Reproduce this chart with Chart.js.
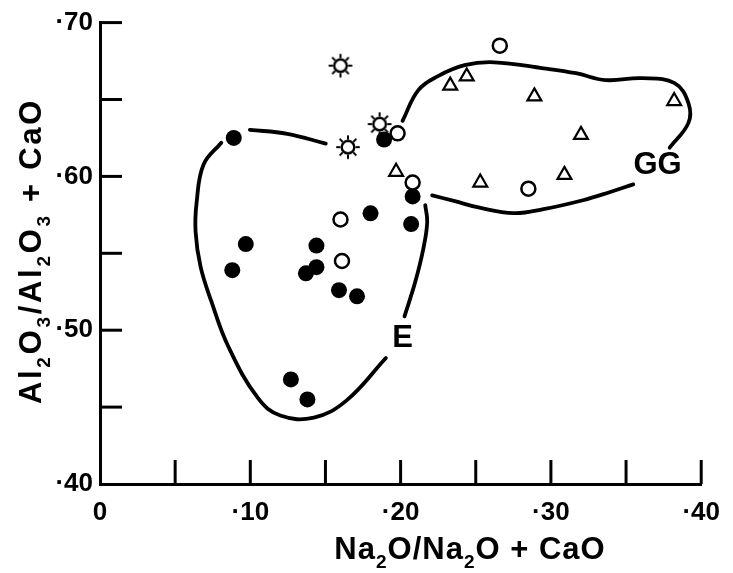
<!DOCTYPE html>
<html>
<head>
<meta charset="utf-8">
<style>
  html, body { margin: 0; padding: 0; background: #fff; }
</style>
</head>
<body>
<canvas id="chart" width="733" height="573"></canvas>
<script src="https://cdn.jsdelivr.net/npm/chart.js@4/dist/chart.umd.min.js"></script>
<script>
// samples
const filledX = [0.089, 0.097, 0.088, 0.144, 0.144, 0.137, 0.159, 0.180, 0.207, 0.208, 0.171, 0.127, 0.138, 0.189];
const filledY = [0.625, 0.556, 0.539, 0.555, 0.541, 0.537, 0.526, 0.576, 0.569, 0.587, 0.522, 0.468, 0.455, 0.624];
const openX = [0.198, 0.208, 0.160, 0.161, 0.266, 0.285];
const openY = [0.628, 0.596, 0.572, 0.545, 0.685, 0.592];
const triX = [0.244, 0.233, 0.289, 0.320, 0.382, 0.309, 0.253, 0.197];
const triY = [0.665, 0.659, 0.652, 0.627, 0.649, 0.601, 0.596, 0.603];
const sunX = [0.160, 0.165, 0.186];
const sunY = [0.672, 0.619, 0.634];

// field boundaries (hand drawn in the original)
const eTopX = [0.0997, 0.1246, 0.1502];
const eTopY = [0.6303, 0.6277, 0.6213];
const eMainX = [0.0807, 0.0689, 0.0643, 0.0636, 0.0669, 0.0741, 0.0852, 0.1049, 0.1200, 0.1423, 0.1639, 0.1902];
const eMainY = [0.6219, 0.6077, 0.5832, 0.5639, 0.5413, 0.5187, 0.4897, 0.4561, 0.4445, 0.4432, 0.4542, 0.4819];
const eRightX = [0.2026, 0.2098, 0.2151, 0.2177, 0.2164];
const eRightY = [0.5090, 0.5316, 0.5529, 0.5703, 0.5813];
const ggLowX = [0.2210, 0.2361, 0.2511, 0.2754, 0.2951, 0.3213, 0.3390, 0.3548];
const ggLowY = [0.5877, 0.5839, 0.5800, 0.5761, 0.5787, 0.5845, 0.5897, 0.5948];
const ggTopX = [0.2013, 0.2118, 0.2249, 0.2426, 0.2623, 0.2951, 0.3167, 0.3364, 0.3607, 0.3823, 0.3915, 0.3915, 0.3790];
const ggTopY = [0.6361, 0.6561, 0.6652, 0.6723, 0.6742, 0.6703, 0.6671, 0.6626, 0.6639, 0.6606, 0.6477, 0.6348, 0.6187];

// field names
const fieldNames = ["E", "GG"];
const fieldX = [0.2013, 0.3710];
const fieldY = [0.4948, 0.6071];

// axes
const xTickMarks = [0.05, 0.10, 0.15, 0.20, 0.25, 0.30, 0.35, 0.40];
const yTickMarks = [0.45, 0.50, 0.55, 0.60, 0.65, 0.70];

const pts = (xs, ys) => xs.map((v, i) => ({ x: v, y: ys[i] }));
const tickFont = { family: '"Liberation Sans Narrow", "Liberation Sans", Arial, sans-serif', size: 26, weight: 'bold' };

// sun marker
const sun = document.createElement('canvas');
sun.width = 28; sun.height = 28;
(function () {
  const c = sun.getContext('2d');
  c.strokeStyle = '#000';
  c.fillStyle = '#fff';
  c.lineWidth = 2.4;
  c.beginPath(); c.arc(14, 14, 6.3, 0, Math.PI * 2); c.fill(); c.stroke();
  c.lineWidth = 2;
  for (let k = 0; k < 8; k++) {
    const a = k * Math.PI / 4;
    c.beginPath();
    c.moveTo(14 + Math.cos(a) * 7.5, 14 + Math.sin(a) * 7.5);
    c.lineTo(14 + Math.cos(a) * 11.8, 14 + Math.sin(a) * 11.8);
    c.stroke();
  }
})();

const curve = (data) => ({
  type: 'line', data, showLine: true, fill: false, tension: 0.4,
  borderColor: '#000', borderWidth: 3.8, pointRadius: 0, borderCapStyle: 'round', clip: false
});

function richText(ctx, parts, size) {
  let w = 0;
  parts.forEach(p => {
    ctx.font = 'bold ' + (p.sub ? Math.round(size * 0.62) : size) + 'px "Liberation Sans", Arial, sans-serif';
    p.w = ctx.measureText(p.t).width;
    w += p.w;
  });
  let x = -w / 2;
  parts.forEach(p => {
    ctx.font = 'bold ' + (p.sub ? Math.round(size * 0.62) : size) + 'px "Liberation Sans", Arial, sans-serif';
    ctx.fillText(p.t, x, p.sub ? size * 0.28 : 0);
    x += p.w;
  });
}

const decor = {
  id: 'decor',
  beforeDatasetsDraw(chart) {
    const { ctx, scales: { x, y } } = chart;
    ctx.save();
    ctx.strokeStyle = '#000';
    ctx.lineWidth = 3;
    xTickMarks.forEach(v => {
      const px = x.getPixelForValue(v);
      ctx.beginPath(); ctx.moveTo(px, y.bottom); ctx.lineTo(px, y.bottom - 24); ctx.stroke();
    });
    yTickMarks.forEach(v => {
      const py = y.getPixelForValue(v);
      ctx.beginPath(); ctx.moveTo(x.left, py); ctx.lineTo(x.left + 22, py); ctx.stroke();
    });
    ctx.restore();
  },
  afterDraw(chart) {
    const { ctx, scales: { x, y } } = chart;
    ctx.save();
    ctx.fillStyle = '#000';
    ctx.textAlign = 'center';
    ctx.textBaseline = 'middle';
    ctx.font = 'bold 31px "Liberation Sans", Arial, sans-serif';
    fieldNames.forEach((t, i) => {
      ctx.fillText(t, x.getPixelForValue(fieldX[i]), y.getPixelForValue(fieldY[i]));
    });
    ctx.textAlign = 'left';
    ctx.textBaseline = 'alphabetic';
    // x title
    ctx.save();
    ctx.letterSpacing = '1px';
    ctx.translate(470, 559);
    richText(ctx, [{ t: 'Na' }, { t: '2', sub: true }, { t: 'O/Na' }, { t: '2', sub: true }, { t: 'O + CaO' }], 31);
    ctx.restore();
    // y title
    ctx.save();
    ctx.letterSpacing = '2.7px';
    ctx.translate(41, 251);
    ctx.rotate(-Math.PI / 2);
    richText(ctx, [{ t: 'Al' }, { t: '2', sub: true }, { t: 'O' }, { t: '3', sub: true }, { t: '/Al' }, { t: '2', sub: true }, { t: 'O' }, { t: '3', sub: true }, { t: ' + CaO' }], 31);
    ctx.restore();
    ctx.restore();
  }
};

new Chart(document.getElementById('chart'), {
  type: 'scatter',
  data: {
    datasets: [
      { data: pts(openX, openY), pointStyle: 'circle', pointRadius: 7, borderWidth: 2.5, borderColor: '#000', backgroundColor: '#fff', clip: false },
      { data: pts(sunX, sunY), pointStyle: sun, pointRadius: 12, clip: false },
      { data: pts(triX, triY), pointStyle: 'triangle', pointRadius: 8, borderWidth: 2.2, borderColor: '#000', backgroundColor: '#fff', clip: false },
      { data: pts(filledX, filledY), pointStyle: 'circle', pointRadius: 8, borderWidth: 0, backgroundColor: '#000', clip: false },
      curve(pts(eTopX, eTopY)),
      curve(pts(eMainX, eMainY)),
      curve(pts(eRightX, eRightY)),
      curve(pts(ggLowX, ggLowY)),
      curve(pts(ggTopX, ggTopY))
    ]
  },
  options: {
    responsive: false,
    animation: false,
    layout: { padding: { top: 19, right: 23, left: 0, bottom: 0 } },
    plugins: { legend: { display: false }, tooltip: { enabled: false } },
    scales: {
      x: {
        type: 'linear', min: 0, max: 0.40,
        afterFit: s => { s.height = 89; },
        border: { display: true, width: 3, color: '#000' },
        grid: { drawOnChartArea: false, drawTicks: false },
        ticks: {
          stepSize: 0.10, padding: 13, color: '#000', font: tickFont,
          callback: v => Math.round(v * 100) === 0 ? '0' : '·' + Math.round(v * 100)
        }
      },
      y: {
        type: 'linear', min: 0.40, max: 0.70,
        afterFit: s => { s.width = 100; },
        border: { display: true, width: 3, color: '#000' },
        grid: { drawOnChartArea: false, drawTicks: false },
        ticks: {
          stepSize: 0.10, padding: 7, color: '#000', font: tickFont,
          callback: v => '·' + Math.round(v * 100)
        }
      }
    }
  },
  plugins: [decor]
});
</script>
</body>
</html>
